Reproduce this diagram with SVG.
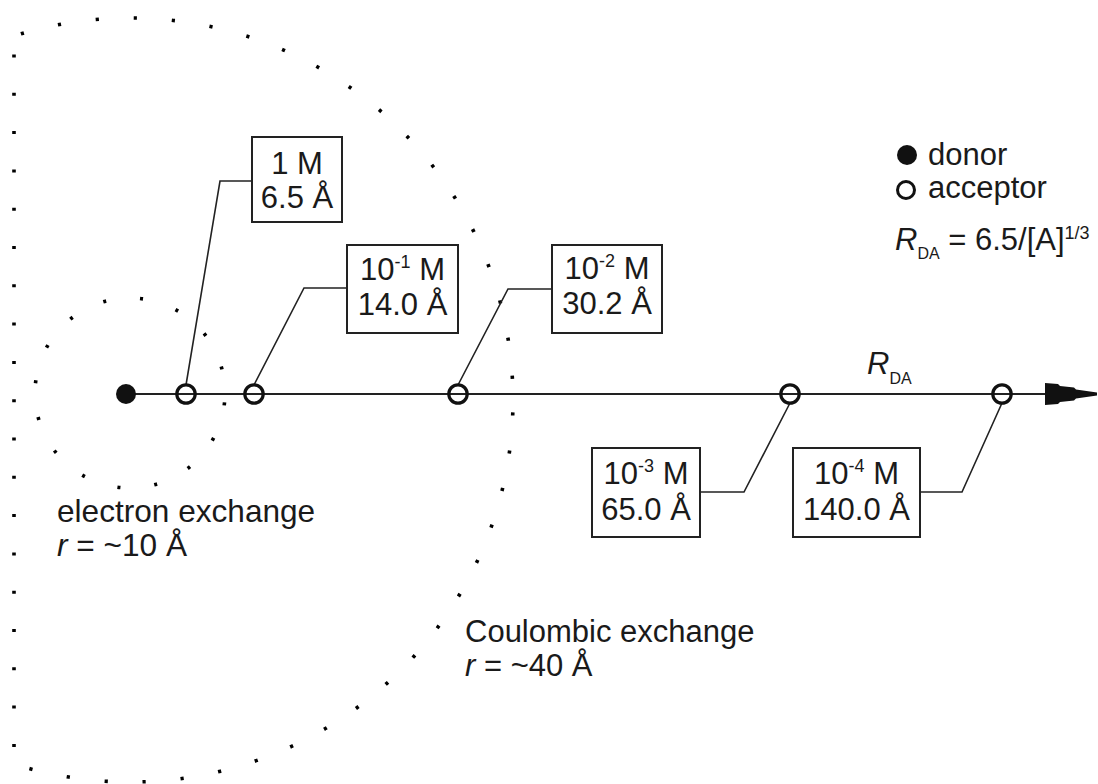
<svg xmlns="http://www.w3.org/2000/svg" width="1098" height="784" viewBox="0 0 1098 784">
<style>
  text { font-family: "Liberation Sans", Arial, sans-serif; fill: #1a1a1a; font-size: 31px; }
  .big { font-size: 31.6px; }
  .mid { text-anchor: middle; }
  .it { font-style: italic; }
  .sup { font-size: 18px; }
  .sub { font-size: 16px; }
  .ln { stroke: #222; stroke-width: 2; fill: none; }
  .lead { stroke: #222; stroke-width: 1.6; fill: none; }
  .box { fill: #fff; stroke: #222; stroke-width: 2; }
  .acc { fill: none; stroke: #111; stroke-width: 3.2; }
  .dots { fill: none; stroke: #000; stroke-width: 3.6; }
</style>
<defs>
  <clipPath id="clipL"><rect x="12" y="0" width="1086" height="784"/></clipPath>
</defs>
<rect width="1098" height="784" fill="#fff"/>

<g id="ranges">
  <ellipse class="dots" cx="130" cy="400" rx="383" ry="382" stroke-dasharray="3.2 34.95" stroke-dashoffset="-12.5" clip-path="url(#clipL)"/>
  <line class="dots" x1="14" y1="54.5" x2="14" y2="748" stroke-dasharray="3 35.3"/>
  <circle class="dots" cx="130" cy="393" r="95" stroke-dasharray="3 34.3" stroke-dashoffset="-9.5"/>
</g>

<g id="connectors">
  <line class="ln" x1="126" y1="394" x2="1046" y2="394"/>
  <polygon points="1045,383 1058,384 1060,386 1074,387.5 1076,389.5 1097,392.5 1097,395.5 1076,398.5 1074,400.5 1060,402 1058,404 1045,405" fill="#111"/>
  <polyline class="lead" points="186,385 220,181 252,181"/>
  <polyline class="lead" points="254,385 304,288 347,288"/>
  <polyline class="lead" points="458,385 508,289 552,289"/>
  <polyline class="lead" points="790,403 744,492 700,492"/>
  <polyline class="lead" points="1002,403 962,492 920,492"/>
</g>

<g id="donor"><circle cx="126" cy="394" r="10" fill="#111"/></g>
<g id="acceptors">
  <circle class="acc" cx="186" cy="394" r="9.2"/>
  <circle class="acc" cx="254" cy="394" r="9.2"/>
  <circle class="acc" cx="458" cy="394" r="9.2"/>
  <circle class="acc" cx="790" cy="394" r="9.2"/>
  <circle class="acc" cx="1002" cy="394" r="9.2"/>
</g>

<g id="box1">
  <rect class="box" x="252" y="137" width="90" height="85"/>
  <text class="mid" x="297" y="174">1 M</text>
  <text class="mid" x="297" y="208">6.5 Å</text>
</g>
<g id="box2">
  <rect class="box" x="347" y="245" width="111" height="88"/>
  <text class="mid" x="402.5" y="280">10<tspan class="sup" dy="-12">-1</tspan><tspan dy="12"> M</tspan></text>
  <text class="mid" x="402.5" y="315">14.0 Å</text>
</g>
<g id="box3">
  <rect class="box" x="552" y="245" width="110" height="88"/>
  <text class="mid" x="607" y="279">10<tspan class="sup" dy="-12">-2</tspan><tspan dy="12"> M</tspan></text>
  <text class="mid" x="607" y="314">30.2 Å</text>
</g>
<g id="box4">
  <rect class="box" x="592" y="448" width="108" height="89"/>
  <text class="mid" x="646" y="484">10<tspan class="sup" dy="-12">-3</tspan><tspan dy="12"> M</tspan></text>
  <text class="mid" x="646" y="520">65.0 Å</text>
</g>
<g id="box5">
  <rect class="box" x="793" y="448" width="127" height="89"/>
  <text class="mid" x="856.5" y="484">10<tspan class="sup" dy="-12">-4</tspan><tspan dy="12"> M</tspan></text>
  <text class="mid" x="856.5" y="520">140.0 Å</text>
</g>

<g id="axis-label">
  <text x="867" y="374"><tspan class="it">R</tspan><tspan class="sub" dy="10">DA</tspan></text>
</g>

<g id="legend">
  <circle cx="907" cy="155" r="10" fill="#111"/>
  <text x="928" y="165">donor</text>
  <circle cx="906" cy="190" r="8.5" fill="#fff" stroke="#111" stroke-width="3"/>
  <text x="928" y="198">acceptor</text>
  <text x="895" y="250"><tspan class="it">R</tspan><tspan class="sub" dy="9">DA</tspan><tspan dy="-9"> = 6.5/[A]</tspan><tspan class="sup" dy="-11">1/3</tspan></text>
</g>

<g id="labels">
  <text class="big" x="57" y="522">electron exchange</text>
  <text class="big" x="57" y="556"><tspan class="it">r</tspan> = ~10 Å</text>
  <text x="465" y="642">Coulombic exchange</text>
  <text x="465" y="676"><tspan class="it">r</tspan> = ~40 Å</text>
</g>
</svg>
